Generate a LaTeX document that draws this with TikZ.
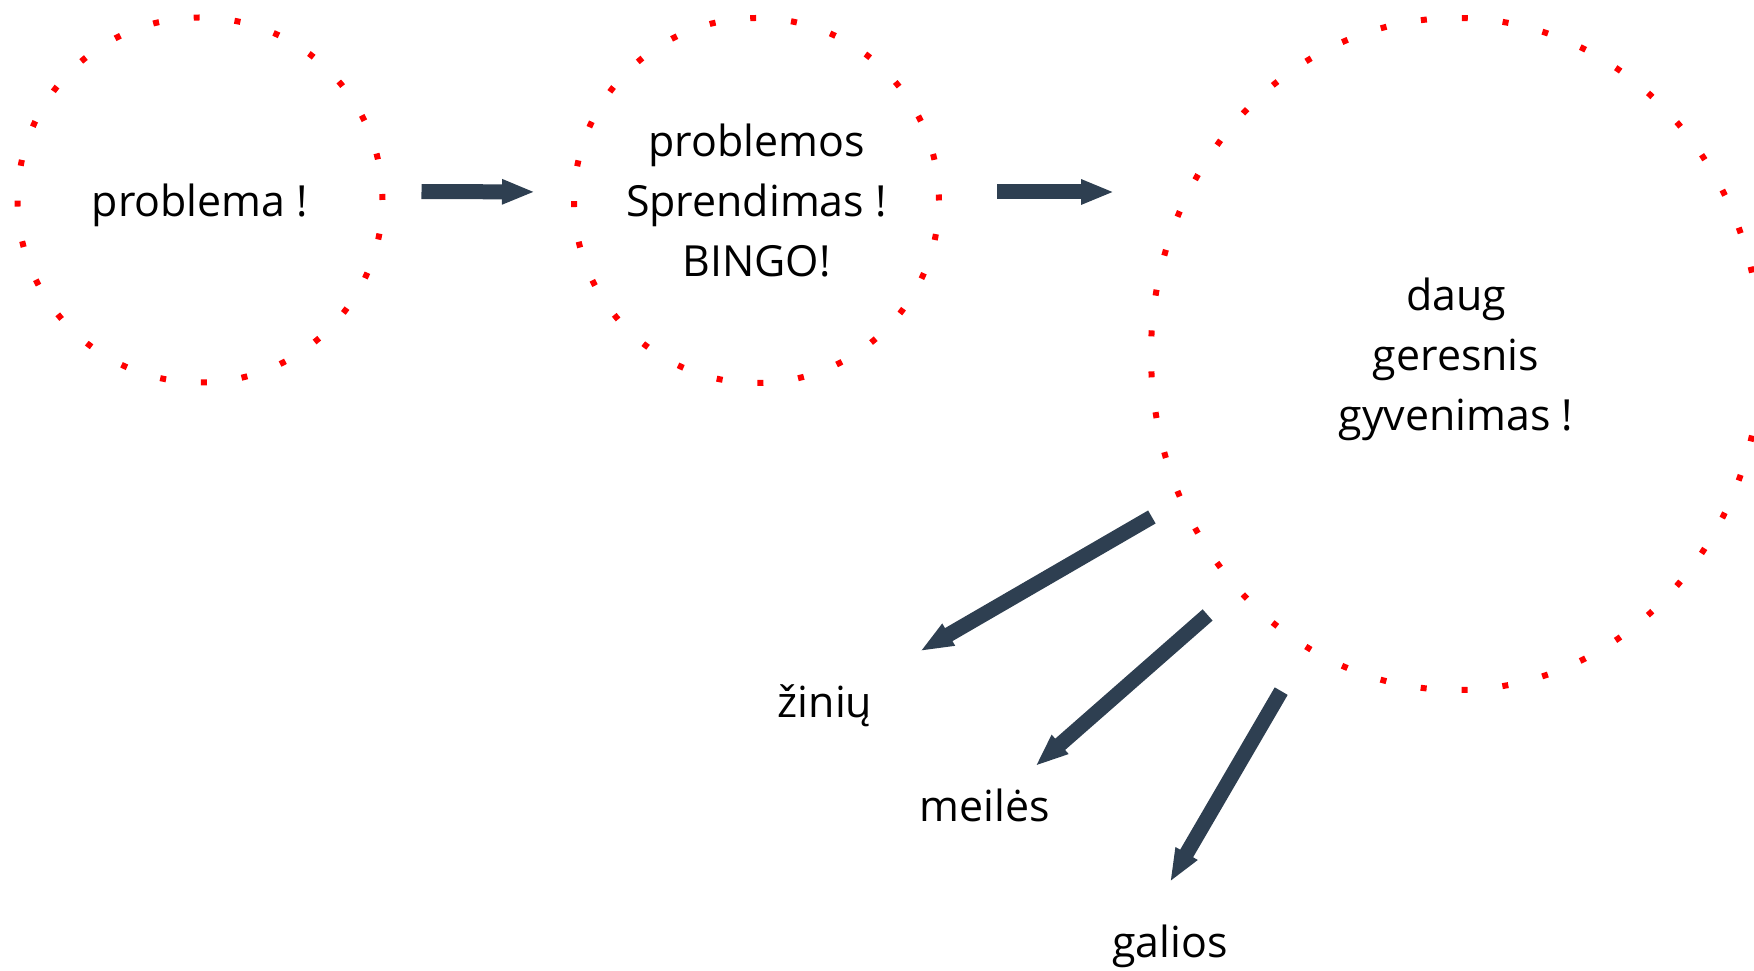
\documentclass[tikz,border=0pt]{standalone}
\usepackage{fontspec}
\setmainfont{Open Sans}
\usetikzlibrary{arrows.meta,shapes.geometric}
\definecolor{slate}{HTML}{2E3F51}

\begin{document}
\begin{tikzpicture}[x=1cm,y=1cm,
    bubble/.style={draw=red,line width=0.6mm,dash pattern=on 0.6mm off 3.5mm,
                   align=center,inner sep=0pt,text depth=0pt,
                   font=\fontsize{12.2}{17.1}\selectfont},
    word/.style={anchor=base,inner sep=0pt,text height=3.2mm,text depth=0.86mm,
                 font=\fontsize{12.2}{17.1}\selectfont},
    fat/.style={-{Triangle[length=3.3mm,width=2.3mm]},line width=1.5mm,slate}]
  \useasboundingbox (0,0) rectangle (17.54,-9.71);
  % the three dotted bubbles
  \node[bubble,circle,minimum size=3.65cm] (prob) at (2.00,-2.00) {problema !};
  \node[bubble,circle,minimum size=3.65cm] (sol) at (7.565,-2.005)
    {problemos\\Sprendimas !\\BINGO!};
  \node[bubble,ellipse,minimum width=6.10cm,minimum height=6.72cm] (life)
    at (14.56,-3.54) {daug\\geresnis\\gyvenimas !};
  % what comes out of it
  \node[word] (zin) at (8.25,-7.18) {žinių};
  \node[word] (mei) at (9.85,-8.22) {meilės};
  \node[word] (gal) at (11.70,-9.58) {galios};
  \coordinate (gtip) at (11.70,-8.82);
  \draw[fat,shorten <=3.6mm,shorten >=3.6mm]
    ([yshift=0.85mm]prob.east) -- ([yshift=0.85mm]sol.west);
  \draw[fat,shorten <=5.5mm,shorten >=7.4mm]
    ([yshift=0.85mm]sol.east) -- ([yshift=0.85mm]sol.east -| life.148.7);
  \draw[fat,shorten <=3.1mm,shorten >=11.0mm] (life.208.6) -- (zin.center);
  \draw[fat,shorten <=3.7mm,shorten >=6.7mm] (life.227.0) -- (mei.center);
  \draw[fat,shorten <=4.8mm] (life.243.5) -- (gtip);
\end{tikzpicture}
\end{document}
